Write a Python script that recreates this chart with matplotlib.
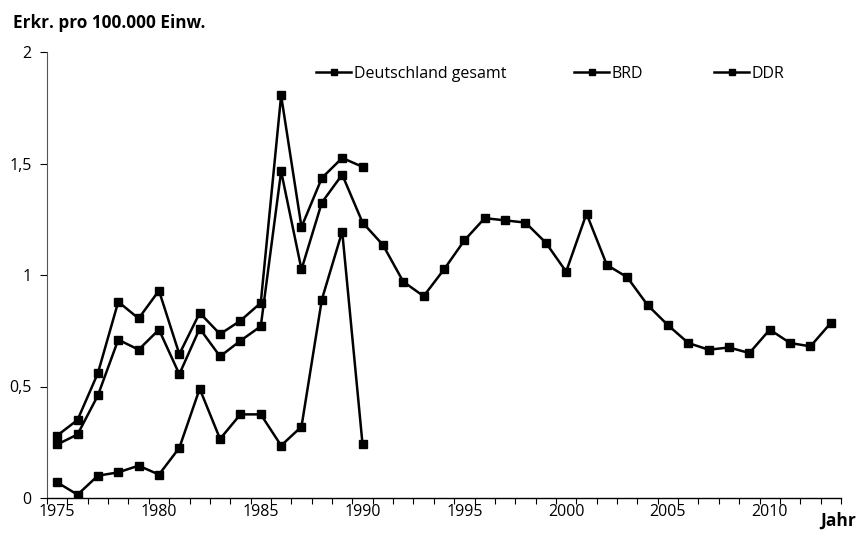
import numpy as np
import matplotlib
matplotlib.use("Agg")
import matplotlib.pyplot as plt
from matplotlib.ticker import FixedLocator, FuncFormatter

plt.rcParams['font.family'] = ['Open Sans', 'DejaVu Sans']

# Jahre
yearsAll = list(range(1975, 2014))
yearsSplit = list(range(1975, 1991))

# Erkrankungen pro 100.000 Einwohner
gesamt = [0.24, 0.285, 0.46, 0.71, 0.665, 0.755, 0.555, 0.76, 0.635, 0.705,
          0.77, 1.465, 1.025, 1.325, 1.45, 1.235, 1.135, 0.97, 0.905, 1.025,
          1.155, 1.255, 1.245, 1.235, 1.145, 1.015, 1.275, 1.045, 0.99, 0.865,
          0.775, 0.695, 0.665, 0.675, 0.65, 0.755, 0.695, 0.68, 0.785]
brd = [0.28, 0.35, 0.56, 0.88, 0.805, 0.93, 0.645, 0.83, 0.735, 0.795,
       0.875, 1.805, 1.215, 1.435, 1.525, 1.485]
ddr = [0.07, 0.015, 0.10, 0.115, 0.145, 0.105, 0.225, 0.49, 0.265, 0.375,
       0.375, 0.235, 0.32, 0.89, 1.195, 0.24]

seriesNames = ["Deutschland gesamt", "BRD", "DDR"]
yTicks = [0, 0.5, 1, 1.5, 2]
xLabelYears = [1975, 1980, 1985, 1990, 1995, 2000, 2005, 2010]

fig = plt.figure(figsize=(8.57, 5.33), dpi=100)
ax = fig.add_axes([47/857, 1 - 498/533, (841 - 47)/857, (498 - 52)/533])

lineStyle = dict(color='black', linewidth=1.8, marker='s', markersize=6)
hGes, = ax.plot(yearsAll, gesamt, label=seriesNames[0], **lineStyle)
hBrd, = ax.plot(yearsSplit, brd, label=seriesNames[1], **lineStyle)
hDdr, = ax.plot(yearsSplit, ddr, label=seriesNames[2], **lineStyle)

ax.set_xlim(yearsAll[0] - 0.5, yearsAll[-1] + 0.5)
ax.set_ylim(0, 2)

# category axis: labels on years, tick marks between categories
ax.xaxis.set_major_locator(FixedLocator(xLabelYears))
ax.xaxis.set_minor_locator(FixedLocator(np.arange(yearsAll[0] - 0.5, yearsAll[-1] + 1, 1)))
ax.tick_params(axis='x', which='major', length=0, pad=4, labelsize=11.5)
ax.tick_params(axis='x', which='minor', length=4, width=0.8, direction='out')

ax.set_yticks(yTicks)
ax.yaxis.set_major_formatter(FuncFormatter(lambda v, p: ('%g' % v).replace('.', ',')))
ax.tick_params(axis='y', length=5, width=0.8, direction='out', labelsize=11.5, pad=6)

for s in ['top', 'right']:
    ax.spines[s].set_visible(False)
ax.spines['left'].set_color('#555555')
ax.spines['left'].set_linewidth(0.8)
ax.spines['bottom'].set_linewidth(1.0)

# legend entries placed one by one
legendPos = [(316/857, 1 - 74/533), (574/857, 1 - 74/533), (714/857, 1 - 74/533)]
for h, pos in zip([hGes, hBrd, hDdr], legendPos):
    fig.legend(handles=[h], loc='center left', bbox_to_anchor=pos, frameon=False,
               fontsize=11.5, handlelength=2.2, handletextpad=0.15, markerscale=0.7,
               borderpad=0, borderaxespad=0)

fig.text(13/857, 1 - 23/533, "Erkr. pro 100.000 Einw.", fontsize=12.3,
         fontweight='bold', va='center', ha='left')
fig.text(856/857, 1 - 521/533, "Jahr", fontsize=12.5, fontweight='bold',
         va='center', ha='right')

fig.savefig("out.png", dpi=100)
